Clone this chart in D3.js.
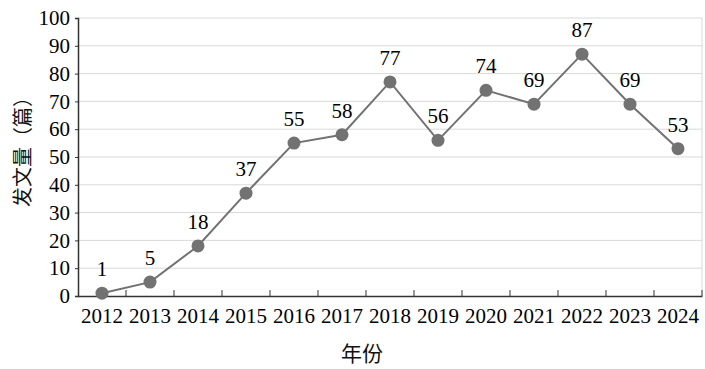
<!DOCTYPE html>
<html>
<head>
<meta charset="utf-8">
<script src="https://cdn.jsdelivr.net/npm/d3@7"></script>
<style>
  body { margin: 0; background: #fff; }
  text { font-family: "Liberation Serif", "Times New Roman", serif; }
  .cjk { font-family: "Noto Sans CJK SC", sans-serif; }
</style>
</head>
<body>
<svg id="chart" width="705" height="369"></svg>
<script>
const years = ["2012", "2013", "2014", "2015", "2016", "2017", "2018", "2019", "2020", "2021", "2022", "2023", "2024"];
const counts = [1, 5, 18, 37, 55, 58, 77, 56, 74, 69, 87, 69, 53];
const yTicks = [0, 10, 20, 30, 40, 50, 60, 70, 80, 90, 100];

const svg = d3.select("#chart");
const mLeft = 78, mRight = 702, mTop = 18, mBottom = 296;

const x = d3.scaleBand().domain(years).range([mLeft, mRight]);
const y = d3.scaleLinear().domain([0, 100]).range([mBottom, mTop]);

// grid lines
svg.append("g")
  .selectAll("line")
  .data(yTicks.slice(1))
  .enter()
  .append("line")
  .attr("x1", mLeft).attr("x2", mRight)
  .attr("y1", d => y(d)).attr("y2", d => y(d))
  .attr("stroke", "#d9d9d9")
  .attr("stroke-width", 1);

// right border
svg.append("line")
  .attr("x1", mRight).attr("x2", mRight)
  .attr("y1", mTop).attr("y2", mBottom)
  .attr("stroke", "#d9d9d9");

// y axis
const yAxis = svg.append("g")
  .attr("transform", `translate(${mLeft},0)`)
  .call(d3.axisLeft(y).tickValues(yTicks).tickSize(3).tickPadding(5));
yAxis.select(".domain").attr("stroke", "#333").attr("stroke-width", 1.5);
yAxis.selectAll(".tick line").attr("stroke", "#333");
yAxis.selectAll("text")
  .attr("font-size", 21)
  .attr("fill", "#000")
  .style("font-family", "Liberation Serif, serif");

// x axis, ticks at band edges pointing inward
const xAxis = svg.append("g")
  .attr("transform", `translate(0,${mBottom})`)
  .call(d3.axisBottom(x).tickSize(0).tickPadding(12));
xAxis.select(".domain").attr("stroke", "#333").attr("stroke-width", 1.5);
xAxis.selectAll("text")
  .attr("font-size", 21)
  .attr("fill", "#000")
  .style("font-family", "Liberation Serif, serif");

svg.append("g")
  .selectAll("line")
  .data(years)
  .enter()
  .append("line")
  .attr("x1", d => x(d) + x.step())
  .attr("x2", d => x(d) + x.step())
  .attr("y1", mBottom).attr("y2", mBottom - 6)
  .attr("stroke", "#333");

const cx = d => x(d) + x.bandwidth() / 2;

// line
svg.append("path")
  .datum(counts)
  .attr("fill", "none")
  .attr("stroke", "#727272")
  .attr("stroke-width", 2)
  .attr("d", d3.line().x((d, i) => cx(years[i])).y(d => y(d)));

// markers
svg.append("g")
  .selectAll("circle")
  .data(counts)
  .enter()
  .append("circle")
  .attr("cx", (d, i) => cx(years[i]))
  .attr("cy", d => y(d))
  .attr("r", 6.5)
  .attr("fill", "#727272");

// value labels
svg.append("g")
  .selectAll("text")
  .data(counts)
  .enter()
  .append("text")
  .attr("x", (d, i) => cx(years[i]))
  .attr("y", d => y(d) - 17)
  .attr("text-anchor", "middle")
  .attr("font-size", 21)
  .attr("fill", "#000")
  .text(d => d);

// axis titles
svg.append("text")
  .attr("class", "cjk")
  .attr("transform", "translate(30,147) rotate(-90)")
  .attr("text-anchor", "middle")
  .attr("font-size", 20)
  .attr("fill", "#111")
  .text("发文量（篇）");

svg.append("text")
  .attr("class", "cjk")
  .attr("x", 362)
  .attr("y", 361)
  .attr("text-anchor", "middle")
  .attr("font-size", 21)
  .attr("fill", "#111")
  .text("年份");
</script>
</body>
</html>
